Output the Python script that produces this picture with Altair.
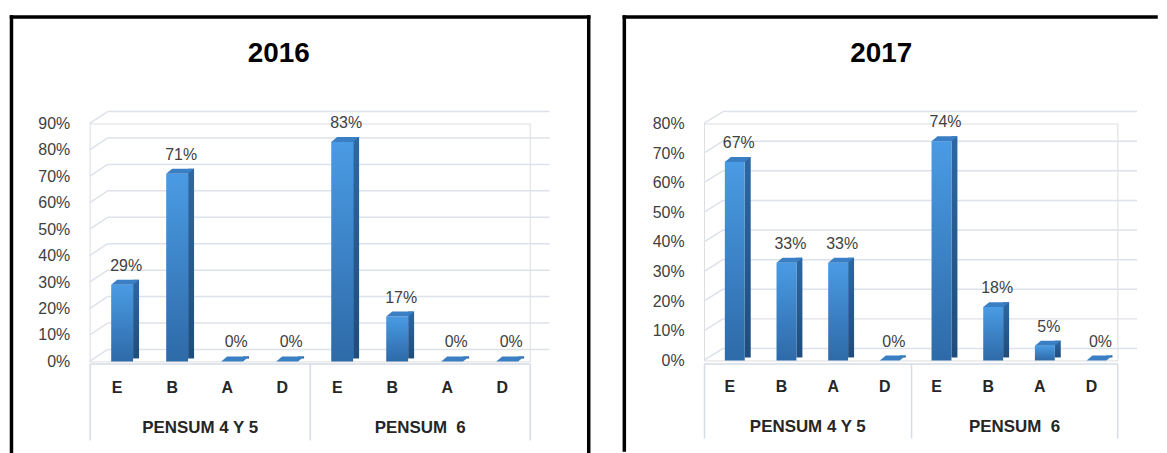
import altair as alt
import pandas as pd

LETTERS = ["E", "B", "A", "D"]
GROUPS = ["PENSUM 4 Y 5", "PENSUM \u00a06"]
VALUES_2016 = [0.29, 0.71, 0.0, 0.0, 0.83, 0.17, 0.0, 0.0]
VALUES_2017 = [0.67, 0.33, 0.33, 0.0, 0.74, 0.18, 0.05, 0.0]
TICKS_2016 = [0.0, 0.1, 0.2, 0.3, 0.4, 0.5, 0.6, 0.7, 0.8, 0.9]
TICKS_2017 = [0.0, 0.1, 0.2, 0.3, 0.4, 0.5, 0.6, 0.7, 0.8]

FONT = "Liberation Sans"
TXT = "#404040"
GRID = "#dde2ea"
TBL = "#d6dce6"
FRONT = alt.Gradient(gradient="linear", x1=0, x2=0, y1=0, y2=1,
                     stops=[alt.GradientStop(color="#4a9be4", offset=0),
                            alt.GradientStop(color="#2e6aa8", offset=1)])
SIDE = alt.Gradient(gradient="linear", x1=0, x2=0, y1=0, y2=1,
                    stops=[alt.GradientStop(color="#2d68a3", offset=0),
                           alt.GradientStop(color="#1f4c7c", offset=1)])
TOP = "#3a7fc4"
ONE = [{}]


def panel(title, values, ticks, ymax, W, H, bw, sw, xo, fl, fr, ft, fb, fr_line,
          anchor_y, tx, ty, dx, dy, gx2, g_off, g_tick, g_pad, shape):
    keys = [f"{i}{l}" for i in "12" for l in LETTERS]
    df = pd.DataFrame({"key": keys, "v": values})
    tdf = pd.DataFrame({"t": ticks})
    xs = alt.Scale(domain=keys, paddingInner=0, paddingOuter=0)
    ys = alt.Scale(domain=[0, ymax], nice=False, zero=True)
    xa = alt.Axis(orient="bottom", title=None, domain=False, ticks=False, grid=False, labelAngle=0,
                  labelExpr="substring(datum.label, 1)", labelPadding=18, labelFontSize=16,
                  labelFontWeight="bold", labelColor="#262626", labelFont=FONT)
    ya = alt.Axis(values=ticks, format=".0%", title=None, domain=False, ticks=False, grid=False,
                  labelPadding=20, labelFontSize=16, labelColor=TXT, labelFont=FONT)
    xn = alt.X("key:N", scale=xs, axis=xa)
    yn = alt.Y("v:Q", scale=ys, axis=ya)
    yt = alt.Y("t:Q", scale=ys, axis=ya)

    layers = []
    layers.append(alt.Chart(alt.Data(values=ONE)).mark_rule(color="white", strokeWidth=1).encode(
        x=alt.value(0), x2=alt.value(10), y=alt.value(anchor_y)))
    layers.append(alt.Chart(alt.Data(values=ONE)).mark_rule(color="black", strokeWidth=3.5, strokeCap="square").encode(
        x=alt.value(fl), x2=alt.value(fr), y=alt.value(ft)))
    layers.append(alt.Chart(alt.Data(values=ONE)).mark_rule(color="black", strokeWidth=3.5, strokeCap="square").encode(
        x=alt.value(fl), y=alt.value(ft), y2=alt.value(fb)))
    if fr_line:
        layers.append(alt.Chart(alt.Data(values=ONE)).mark_rule(color="black", strokeWidth=3.5, strokeCap="square").encode(
            x=alt.value(fr), y=alt.value(ft), y2=alt.value(fb)))
    layers.append(alt.Chart(alt.Data(values=ONE)).mark_text(
        text=title, fontSize=28, fontWeight="bold", color="black", baseline="middle", align="center").encode(
        x=alt.value(tx), y=alt.value(ty)))
    layers.append(alt.Chart(tdf).mark_rule(color=GRID, strokeWidth=1.5, yOffset=dy).encode(
        x=alt.value(dx), x2=alt.value(gx2), y=yt))
    layers.append(alt.Chart(tdf).mark_rule(color=GRID, strokeWidth=1.5, y2Offset=dy).encode(
        x=alt.value(0), x2=alt.value(dx), y=yt, y2=alt.Y2("t:Q")))
    layers.append(alt.Chart(df).mark_bar(width=sw, xOffset=xo + bw / 2 + sw / 2, yOffset=-5, y2Offset=-3,
                                         color=SIDE).encode(x=xn, y=yn, y2=alt.datum(0)))
    layers.append(alt.Chart(df).mark_bar(width=bw, xOffset=xo, color=FRONT).encode(
        x=xn, y=yn, y2=alt.datum(0)))
    layers.append(alt.Chart(df).mark_point(shape=shape, size=784, filled=True, opacity=1, color=TOP,
                                           strokeWidth=0, xOffset=xo).encode(x=xn, y=yn))
    layers.append(alt.Chart(df).mark_text(fontSize=16, color=TXT, xOffset=xo + 4, dy=-19, baseline="middle").encode(
        x=xn, y=yn, text=alt.Text("v:Q", format=".0%")))

    inner = alt.layer(*layers)

    gdf = pd.DataFrame({"g": GROUPS})
    group_layer = alt.Chart(gdf).mark_point(opacity=0, size=1).encode(
        x=alt.X("g:N", scale=alt.Scale(domain=GROUPS, paddingInner=0, paddingOuter=0), axis=alt.Axis(
            orient="bottom", offset=g_off, title=None, grid=False, labelAngle=0,
            domainColor=TBL, domainWidth=1.5, tickColor=TBL, tickWidth=1.5, tickSize=g_tick,
            tickBand="extent", labelPadding=g_pad, labelFontSize=17, labelFontWeight="bold",
            labelColor="#262626", labelFont=FONT)),
        y=alt.value(0))

    return alt.layer(inner, group_layer).resolve_scale(x="independent").properties(width=W, height=H)


left = panel("2016", VALUES_2016, TICKS_2016, 0.9, W=442, H=239, bw=22, sw=6, xo=5,
             fl=-78.5, fr=501.25, ft=-107, fb=330, fr_line=True, anchor_y=-111.5,
             tx=190, ty=-70, dx=18, dy=-12, gx2=462, g_off=2, g_tick=77, g_pad=-21,
             shape="M -0.786 0 L 0.786 0 L 1.214 -0.357 L -0.357 -0.357 Z")

right = panel("2017", VALUES_2017, TICKS_2017, 0.8, W=415.2, H=238, bw=20, sw=6, xo=5,
              fl=-80, fr=454, ft=-107, fb=328, fr_line=False, anchor_y=-113.5,
              tx=178, ty=-70, dx=19, dy=-12, gx2=435, g_off=3, g_tick=75, g_pad=-20,
              shape="M -0.714 0 L 0.714 0 L 1.143 -0.357 L -0.286 -0.357 Z")

chart = alt.hconcat(left, right, spacing=29).properties(padding=0).configure_view(
    stroke=None).configure(font=FONT)

chart.save("out.html", embed_options={"renderer": "svg", "actions": False})
